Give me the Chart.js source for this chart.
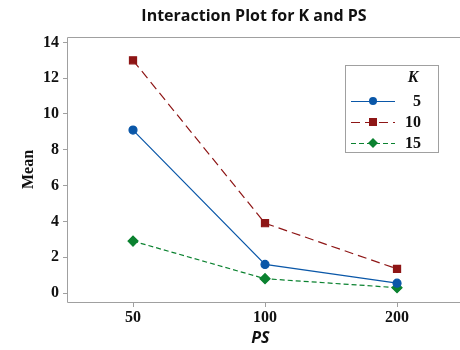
<!DOCTYPE html>
<html>
<head>
<meta charset="utf-8">
<script src="https://cdn.jsdelivr.net/npm/chart.js@4.4.1/dist/chart.umd.min.js"></script>
<style>
  html, body { margin: 0; padding: 0; background: #fff; }
  #wrap { width: 460px; height: 350px; }
</style>
</head>
<body>
<div id="wrap"><canvas id="grafico" width="460" height="350"></canvas></div>
<script>
// Datos
const niveles = ['50', '100', '200'];
const k5 = [9.1, 1.6, 0.55];
const k10 = [13.0, 3.9, 1.35];
const k15 = [2.9, 0.8, 0.3];
const etiquetasK = ['5', '10', '15'];
const ticksY = [0, 2, 4, 6, 8, 10, 12, 14];
const titulo = 'Interaction Plot for K and PS';

const azul = '#0a57a8';
const rojo = '#8e1616';
const verde = '#0b8230';
const gris = '#a0a0a0';
const serif = '"Liberation Serif", "DejaVu Serif", serif';
const sans = '"Open Sans", "Noto Sans", sans-serif';

// puntos {x: indice del nivel, y: media}
const puntos = serie => serie.map((v, i) => ({ x: i, y: v }));

// Borde del area del grafico (arriba, izquierda, abajo) y titulo
const bordePlugin = {
    id: 'borde',
    beforeDatasetsDraw(chart) {
        const a = chart.chartArea, c = chart.ctx;
        c.save();
        c.strokeStyle = gris;
        c.lineWidth = 1;
        c.beginPath();
        c.moveTo(chart.width, a.top + 0.5);
        c.lineTo(a.left + 0.5, a.top + 0.5);
        c.lineTo(a.left + 0.5, a.bottom + 0.5);
        c.lineTo(chart.width, a.bottom + 0.5);
        c.stroke();
        c.fillStyle = '#111';
        c.font = 'bold 16px ' + sans;
        c.textAlign = 'center';
        c.textBaseline = 'middle';
        c.fillText(titulo, 254, 16);
        c.restore();
    }
};

// Leyenda dibujada a mano (linea + marcador)
const leyendaPlugin = {
    id: 'leyendaK',
    afterDraw(chart) {
        const c = chart.ctx;
        const x0 = 345, y0 = 65, w = 93, h = 87;
        c.save();
        c.strokeStyle = gris;
        c.lineWidth = 1;
        c.strokeRect(x0 + 0.5, y0 + 0.5, w, h);
        c.fillStyle = '#111';
        c.font = 'italic bold 16px ' + serif;
        c.textAlign = 'center';
        c.textBaseline = 'middle';
        c.fillText('K', 413, 78);
        chart.data.datasets.forEach((ds, i) => {
            const y = 101 + i * 21;
            c.strokeStyle = ds.borderColor;
            c.lineWidth = 1.2;
            c.setLineDash(ds.borderDash || []);
            c.beginPath();
            c.moveTo(351, y + 0.5);
            c.lineTo(395, y + 0.5);
            c.stroke();
            c.setLineDash([]);
            c.fillStyle = ds.pointBackgroundColor;
            c.beginPath();
            if (ds.pointStyle === 'rect') {
                c.rect(369, y - 4, 8, 8);
            } else if (ds.pointStyle === 'rectRot') {
                c.moveTo(373, y - 5); c.lineTo(378, y); c.lineTo(373, y + 5); c.lineTo(368, y);
                c.closePath();
            } else {
                c.arc(373, y, 4, 0, Math.PI * 2);
            }
            c.fill();
            c.fillStyle = '#111';
            c.font = 'bold 16px ' + serif;
            c.textAlign = 'right';
            c.fillText(ds.label, 421, y + 1);
        });
        c.restore();
    }
};

const grafico = new Chart(document.getElementById('grafico').getContext('2d'), {
    type: 'line',
    data: {
        datasets: [
            { label: etiquetasK[0], data: puntos(k5), borderColor: azul, pointBackgroundColor: azul,
              pointBorderColor: azul, pointStyle: 'circle', pointRadius: 4, borderWidth: 1.2 },
            { label: etiquetasK[1], data: puntos(k10), borderColor: rojo, pointBackgroundColor: rojo,
              pointBorderColor: rojo, pointStyle: 'rect', pointRadius: 5, borderWidth: 1.2, borderDash: [9, 5] },
            { label: etiquetasK[2], data: puntos(k15), borderColor: verde, pointBackgroundColor: verde,
              pointBorderColor: verde, pointStyle: 'rectRot', pointRadius: 5, borderWidth: 1.2, borderDash: [5, 3] }
        ]
    },
    options: {
        responsive: false,
        animation: false,
        layout: { padding: { top: 37, right: 0, left: 19, bottom: 0 } },
        plugins: {
            legend: { display: false },
            tooltip: { enabled: false },
            title: { display: false }
        },
        scales: {
            x: {
                type: 'linear',
                min: -0.5,
                max: 2.43,
                grid: { display: true, drawOnChartArea: false, drawTicks: true, tickLength: 5, color: gris },
                border: { display: false },
                afterBuildTicks(s) { s.ticks = niveles.map((n, i) => ({ value: i })); },
                ticks: { color: '#111', font: { family: serif, size: 16, weight: 'bold' }, padding: 1,
                         callback: v => niveles[v] },
                title: { display: true, text: 'PS', color: '#111',
                         font: { family: sans, size: 16, weight: 'bold', style: 'italic' }, padding: { top: 0, bottom: 2 } },
                afterFit(s) { s.height = 48; s.paddingLeft = 0; s.paddingRight = 0; }
            },
            y: {
                min: -0.5,
                max: 14.3,
                grid: { display: true, drawOnChartArea: false, drawTicks: true, tickLength: 4, color: gris },
                border: { display: false },
                afterBuildTicks(s) { s.ticks = ticksY.map(v => ({ value: v })); },
                ticks: { color: '#111', font: { family: serif, size: 16, weight: 'bold' }, padding: 4 },
                title: { display: true, text: 'Mean', color: '#111',
                         font: { family: serif, size: 16, weight: 'bold' }, padding: { top: 0, bottom: 8 } },
                afterFit(s) { s.width = 48; s.paddingTop = 0; s.paddingBottom = 0; }
            }
        }
    },
    plugins: [bordePlugin, leyendaPlugin]
});
</script>
</body>
</html>
